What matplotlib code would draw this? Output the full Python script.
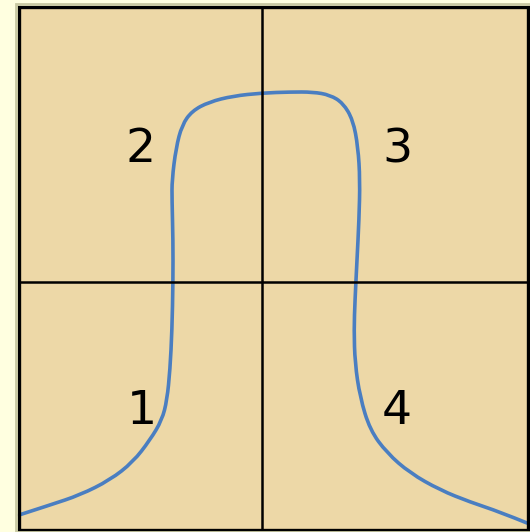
import matplotlib.pyplot as plt
from matplotlib.patches import Rectangle, PathPatch
from matplotlib.path import Path

# curve points, measured from the crossing of the two axes
curve_x = [-243, -212, -182, -152, -129, -112, -100, -95, -92, -90, -89, -89,
           -90, -90, -86, -80, -70, -53, -29, 0, 28, 51, 68, 81, 91, 96, 98,
           97, 95, 93, 92, 93, 98, 108, 125, 148, 178, 208, 238, 265]
curve_y = [-233, -223, -213, -198, -180, -158, -138, -118, -88, -48, 0, 42,
           82, 102, 134, 157, 171, 180, 186, 189, 190, 190, 187, 179, 162,
           135, 102, 62, 22, -18, -48, -81, -115, -148, -171, -191, -208,
           -220, -230, -241]

labels = ["1", "2", "3", "4"]
label_x = [-120, -121, 135, 135]
label_y = [-130, 132, 132, -130]

fig = plt.figure(figsize=(5.30, 5.32), dpi=100, facecolor="#FFFFE0")

# faint outer frame round the box
fig.patches.append(Rectangle((16 / 530, 0), 515 / 530, 528 / 532,
                             transform=fig.transFigure, facecolor="none",
                             edgecolor="#C9C9A3", linewidth=2))

ax = fig.add_axes([19 / 530, 2 / 532, 509 / 530, 523 / 532])
ax.set_facecolor("#EDD8A7")
ax.set_xlim(-243, 266)
ax.set_ylim(-248, 275)

ax.axhline(0, color="black", lw=1.8)
ax.axvline(0, color="black", lw=1.8)

# smooth line: quadratic segments with the points as control points
pts = list(zip(curve_x, curve_y))
verts = [pts[0]]
codes = [Path.MOVETO]
for i in range(1, len(pts) - 1):
    mid = ((pts[i][0] + pts[i + 1][0]) / 2, (pts[i][1] + pts[i + 1][1]) / 2)
    if i == len(pts) - 2:
        mid = pts[-1]
    verts += [pts[i], mid]
    codes += [Path.CURVE3, Path.CURVE3]
ax.add_patch(PathPatch(Path(verts, codes), facecolor="none",
                       edgecolor="#4A7EC1", lw=2.6, capstyle="round",
                       joinstyle="round", clip_on=False))

for t, x, y in zip(labels, label_x, label_y):
    ax.text(x, y, t, fontsize=34, family="DejaVu Sans", ha="center", va="center")

ax.set_xticks([])
ax.set_yticks([])
for s in ax.spines.values():
    s.set_linewidth(2.4)
    s.set_color("black")

fig.savefig("out.png", dpi=100, facecolor=fig.get_facecolor())
